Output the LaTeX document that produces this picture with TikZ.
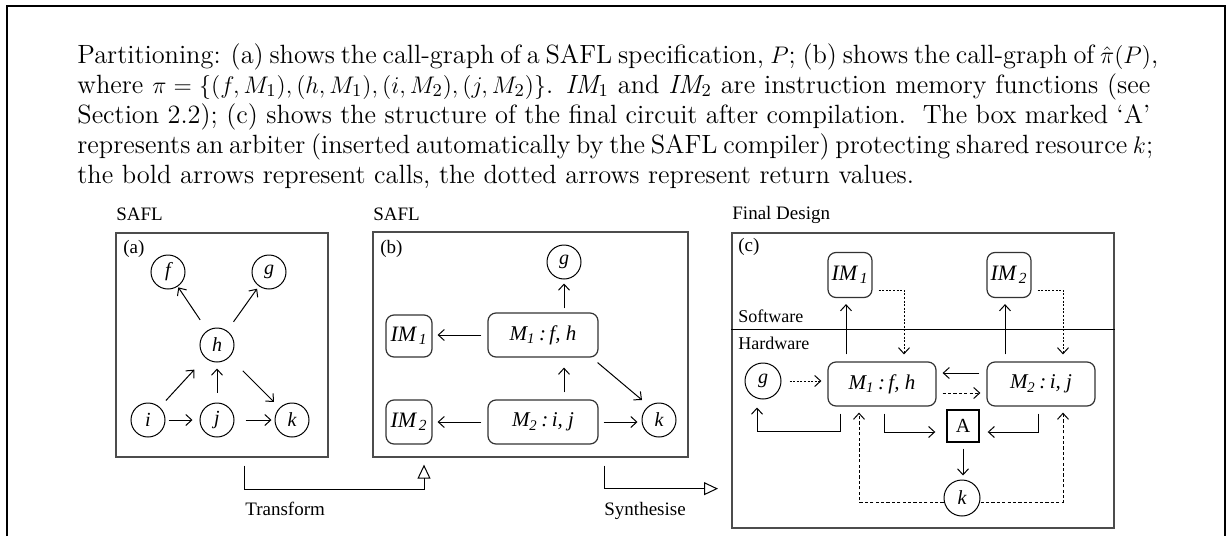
\documentclass[tikz,border=0pt]{standalone}
\usepackage{fontspec}
\newfontfamily\tms{Liberation Serif}
\usetikzlibrary{arrows.meta,calc}
\newcommand{\capfont}{\fontsize{13.2pt}{16pt}\selectfont}
\newcommand{\capline}[1]{\makebox[536.5pt][s]{#1}}
\begin{document}
\begin{tikzpicture}[x=0.5pt,y=-0.5pt,
  lbl/.style={font=\tms\fontsize{9.5pt}{11pt}\selectfont, inner sep=0pt, anchor=base west},
  lbls/.style={font=\tms\fontsize{9pt}{11pt}\selectfont, inner sep=0pt, anchor=base west},
  circ/.style={circle, draw, minimum size=17pt, inner sep=0pt, line width=0.5pt,
    font=\tms\itshape\fontsize{10pt}{12pt}\selectfont},
  rbox/.style={draw=black!80, rounded corners=4pt, inner sep=0pt, line width=0.6pt,
    font=\tms\itshape\fontsize{10.5pt}{12pt}\selectfont},
  frame/.style={draw=black!70, line width=0.65pt, inner sep=0pt},
  arr/.style={-{Straight Barb[length=3pt,width=5.5pt]}, line width=0.5pt},
  tri/.style={-{Triangle[open,length=7pt,width=6.5pt]}, line width=0.5pt},
  dot/.style={dash pattern=on 1pt off 0.8pt},
  dsh/.style={dash pattern=on 1.6pt off 1.1pt},
  capl/.style={anchor=base west, inner sep=0pt, font=\capfont},
]
\useasboundingbox (0,0) rectangle (1227,536);
% outer frame
\draw[line width=1pt] (6.5,536) -- (6.5,5.5) -- (1224.5,5.5) -- (1224.5,536);

% caption
\node[capl] (c1) at (77,63) {\capline{Partitioning: (a) shows the call-graph of a SAFL specification, $P$; (b) shows the call-graph of $\hat{\pi}(P)$,}};
\node[capl] (c2) at (77,93) {\capline{where $\pi = \{(f,M_1),(h,M_1),(i,M_2),(j,M_2)\}$. $\mathit{IM}_1$ and $\mathit{IM}_2$ are instruction memory functions (see}};
\node[capl] (c3) at (77,123) {\capline{Section 2.2); (c) shows the structure of the final circuit after compilation.\ \ The box marked `A'}};
\node[capl] (c4) at (77,153) {\capline{represents an arbiter (inserted automatically by the SAFL compiler) protecting shared resource $k$;}};
\node[capl] (c5) at (77,183) {the bold arrows represent calls, the dotted arrows represent return values.};

% ---------- (a)
\node[lbl] (safla) at (116,220) {SAFL};
\node[frame, minimum width=106pt, minimum height=112pt] (boxa) at (222,345) {};
\node[lbl] (la) at (123,253) {(a)};
\node[circ] (f) at (168,272) {f};
\node[circ] (g) at (269,272) {g};
\node[circ] (h) at (217,345) {h};
\node[circ] (i) at (148,420) {i};
\node[circ] (j) at (217,420) {j};
\node[circ] (k) at (292,420) {k};
\draw[arr, shorten <=6.4pt, shorten >=0.5pt] (h) -- (f);
\draw[arr, shorten <=5.5pt, shorten >=1.5pt] (h) -- (g);
\draw[arr, shorten <=4.5pt, shorten >=8pt] (i) -- (h);
\draw[arr, shorten <=5pt, shorten >=3pt] (j) -- (h);
\draw[arr, shorten <=9.5pt, shorten >=4pt] (h) -- (k);
\draw[arr, shorten <=1.5pt, shorten >=3.5pt] (i) -- (j);
\draw[arr, shorten <=5.5pt, shorten >=1.5pt] (j) -- (k);

% ---------- (b)
\node[lbl] (saflb) at (373,220) {SAFL};
\node[frame, minimum width=157.5pt, minimum height=112.5pt] (boxb) at (530.5,344.5) {};
\node[lbl] (lb) at (380,253) {(b)};
\node[circ] (gb) at (564,262) {g};
\node[rbox, minimum width=55pt, minimum height=22pt] (M1b) at (543,335) {M\textsubscript{1}\,:\,f, h};
\node[rbox, minimum width=55pt, minimum height=22pt] (M2b) at (543,422) {M\textsubscript{2}\,:\,i, j};
\node[rbox, minimum width=23pt, minimum height=21pt, font=\tms\itshape\fontsize{11pt}{12pt}\selectfont] (IM1b) at (409,336) {IM\textsubscript{\,1}};
\node[rbox, minimum width=23pt, minimum height=22pt, font=\tms\itshape\fontsize{11pt}{12pt}\selectfont] (IM2b) at (409,422) {IM\textsubscript{\,2}};
\node[circ] (kb) at (659,420) {k};
\draw[arr, shorten <=2pt, shorten >=2pt] (M1b.north -| gb) -- (gb.south);
\draw[arr, shorten <=3.5pt, shorten >=5pt] (M2b.north -| gb) -- (M1b.south -| gb);
\draw[arr, shorten <=3pt, shorten >=2.5pt] (M1b.west) -- (M1b.west -| IM1b.east);
\draw[arr, shorten <=3pt, shorten >=2.5pt] (M2b.west) -- (M2b.west -| IM2b.east);
\draw[arr] ($(M1b.south east)+(-1,5)$) -- ($(kb)+(-17,-20)$);
\draw[arr, shorten <=2.5pt, shorten >=2pt] (M2b.east) -- (M2b.east -| kb.west);

% transform / synthesise
\draw[tri] ($(boxa.south)+(22,8)$) -- ++(0,24) -| ($(boxb.south)+(-106.5,7)$);
\node[lbl] (tr) at (245,515) {Transform};
\draw[tri] ($(boxb.south)+(73.5,8)$) |- ($(boxb.south)+(187.5,31)$);
\node[lbl] (sy) at (604,515) {Synthesise};

% ---------- (c)
\node[lbl] (fd) at (732,219.5) {Final Design};
\node[frame, minimum width=191pt, minimum height=147.5pt] (boxc) at (923,380.5) {};
\draw[line width=0.5pt] (boxc.west |- 0,329) -- (boxc.east |- 0,329);
\node[lbl] (lc) at (738,251) {(c)};
\node[lbls] (sw) at (738,322) {Software};
\node[lbls] (hw) at (738,349) {Hardware};
\node[rbox, minimum width=22pt, minimum height=22.5pt, font=\tms\itshape\fontsize{11pt}{12pt}\selectfont] (IM1c) at (850,275) {IM\textsubscript{\,1}};
\node[rbox, minimum width=22pt, minimum height=22.5pt, font=\tms\itshape\fontsize{11pt}{12pt}\selectfont] (IM2c) at (1009,275) {IM\textsubscript{\,2}};
\node[circ, minimum size=18pt] (gc) at (763,381) {g};
\node[rbox, minimum width=54pt, minimum height=22pt] (M1c) at (882,384) {M\textsubscript{1}\,:\,f, h};
\node[rbox, minimum width=54pt, minimum height=22pt] (M2c) at (1041,384) {M\textsubscript{2}\,:\,i, j};
\node[draw, line width=0.7pt, minimum size=16pt, inner sep=0pt, font=\tms\fontsize{10pt}{11pt}\selectfont] (A) at (963,426) {A};
\node[circ, minimum size=18pt] (kc) at (962,498) {k};

\draw[arr, shorten <=3.5pt, shorten >=3pt] ([xshift=-18pt]M1c.north) -- ([xshift=-18pt]M1c.north |- IM1c.south);
\draw[arr, dot, shorten >=3.5pt] ($(IM1c.east)+(6,15)$) -| ([xshift=11pt]M1c.north);
\draw[arr, shorten <=3.5pt, shorten >=3pt] ([xshift=-18pt]M2c.north) -- ([xshift=-18pt]M2c.north |- IM2c.south);
\draw[arr, dot, shorten >=3.5pt] ($(IM2c.east)+(6,15)$) -| ([xshift=11pt]M2c.north);
\draw[arr, dot, shorten <=4pt, shorten >=3pt] (gc.east) -- (gc.east -| M1c.west);
\draw[arr, shorten <=3.5pt, shorten >=3pt] ([yshift=5.5pt]M2c.west) -- ([yshift=5.5pt]M2c.west -| M1c.east);
\draw[arr, dsh, shorten <=3pt, shorten >=3pt] ([yshift=-4.5pt]M1c.east) -- ([yshift=-4.5pt]M1c.east -| M2c.west);
\draw[arr] ($(M1c.south)+(-42,7)$) -- ++(0,18) -| ($(gc.south)+(-6,8)$);
\draw[arr] ($(M1c.south)+(2,7)$) |- ($(A.west)+(-11,6)$);
\draw[arr] ($(M2c.south)+(-3,7)$) |- ($(A.east)+(8,6)$);
\draw[arr, shorten <=3pt, shorten >=2pt] (A.south) -- (A.south |- kc.north);
\draw[arr, dsh] ($(kc.west)+(0,4)$) -| ($(M1c.south)+(-23,6)$);
\draw[arr, dsh] ($(kc.east)+(0,4)$) -| ($(M2c.south)+(22,6)$);
\end{tikzpicture}
\end{document}
